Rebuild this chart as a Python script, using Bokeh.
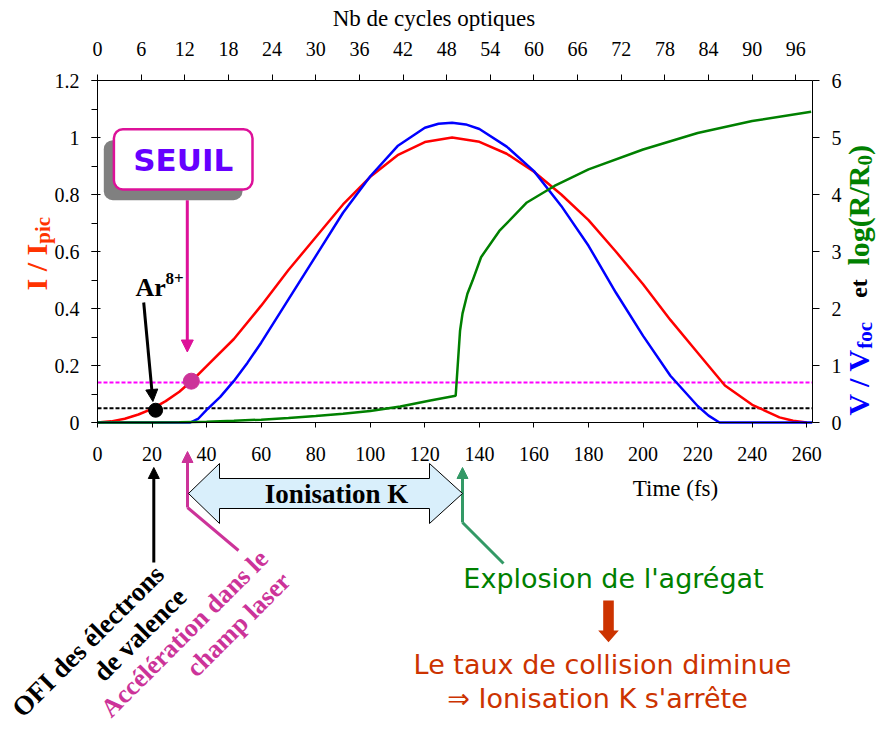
import math
from bokeh.plotting import figure
from bokeh.models import (Range1d, LinearAxis, SingleIntervalTicker, CustomJSTickFormatter,
                          Label, Arrow, NormalHead, PolyAnnotation, BoxAnnotation)
from bokeh.embed import file_html
from bokeh.resources import INLINE

# ---------------- data ----------------
pulse_time_fs = [0, 5, 10, 15, 20, 25, 30, 35, 40, 50, 60, 70, 80, 90, 100, 110, 120, 130,
                 140, 150, 160, 170, 180, 190, 200, 210, 220, 230, 240, 250, 255, 260]
intensity_norm = [0.0, 0.004, 0.013, 0.028, 0.048, 0.075, 0.108, 0.15, 0.198, 0.293, 0.41, 0.535,
                  0.65, 0.765, 0.862, 0.938, 0.984, 1.0, 0.985, 0.943, 0.88, 0.8, 0.71, 0.6,
                  0.485, 0.36, 0.245, 0.13, 0.062, 0.018, 0.006, 0.0]

velocity_time_fs = [0, 34, 37, 40, 45, 50, 55, 60, 70, 80, 90, 100, 110, 120, 125, 130, 135, 140,
                    150, 160, 170, 180, 190, 200, 210, 220, 224, 228, 262]
velocity_norm = [0, 0, 0.07, 0.22, 0.45, 0.73, 1.05, 1.40, 2.16, 2.92, 3.68, 4.32, 4.85, 5.17,
                 5.24, 5.26, 5.23, 5.15, 4.84, 4.41, 3.80, 3.10, 2.28, 1.52, 0.82, 0.29, 0.12,
                 0.0, 0.0]

radius_time_fs = [0, 20, 30, 40, 50, 60, 70, 80, 90, 100, 111, 122, 131.3, 132.9, 133.8, 135.6,
                  137.5, 140.6, 147.3, 157.4, 167.5, 180, 200, 220, 240, 261.6]
log_radius = [0, 0.0, 0.005, 0.015, 0.03, 0.05, 0.08, 0.115, 0.155, 0.2, 0.28, 0.385, 0.47,
              1.61, 1.91, 2.26, 2.49, 2.9, 3.36, 3.86, 4.15, 4.44, 4.79, 5.08, 5.29, 5.45]

ofi_threshold = 0.05        # Ar8+ level
seuil_threshold = 0.14      # SEUIL level
ofi_point_time = [21.3]
ofi_point_level = [0.043]
seuil_point_time = [34.4]
seuil_point_level = [0.145]

fs_per_cycle = 8.0 / 3.0
time_max_fs = 262.1
intensity_max = 1.2
right_max = 6
right_per_left = right_max / intensity_max
time_tick_step = 20
cycle_tick_step = 6
intensity_tick_step = 0.2
right_tick_step = 1

# ---------------- geometry: the frame covers the whole canvas ----------------
W, H = 880, 728
FL, FT, FR, FB = 97, 80, 812, 422   # plotting area (axes box) in canvas pixels
EPS = 1e-6


def dx(px):
    return (px - FL) * time_max_fs / (FR - FL)


def dy(py):
    return (FB - py) * intensity_max / (FB - FT)


p = figure(width=W, height=H,
           x_range=Range1d(dx(0), dx(W)), y_range=Range1d(dy(H), dy(0)),
           output_backend="svg", toolbar_location=None,
           x_axis_location=None, y_axis_location=None, min_border=0)
p.title.visible = False
p.outline_line_color = None
p.background_fill_color = "white"
p.border_fill_color = "white"
p.xgrid.visible = False
p.ygrid.visible = False
p.extra_x_ranges = {"cyc": Range1d(dx(0) / fs_per_cycle, dx(W) / fs_per_cycle)}
p.extra_y_ranges = {"right": Range1d(dy(H) * right_per_left, dy(0) * right_per_left)}

SERIF = "Liberation Serif"
COMIC = "DejaVu Sans"


def style_axis(ax, tick_out, standoff):
    ax.major_label_text_font = SERIF
    ax.major_label_text_font_size = "20px"
    ax.major_label_text_color = "black"
    ax.axis_line_color = "black"
    ax.axis_line_width = 1
    ax.major_tick_line_color = "black"
    ax.major_tick_out = tick_out
    ax.major_tick_in = 0
    ax.minor_tick_line_color = None
    ax.major_label_standoff = standoff


xb = LinearAxis(ticker=SingleIntervalTicker(interval=time_tick_step, num_minor_ticks=0),
                fixed_location=0, bounds=(0, time_max_fs))
style_axis(xb, 5, 19)
p.add_layout(xb, "below")

xt = LinearAxis(x_range_name="cyc",
                ticker=SingleIntervalTicker(interval=cycle_tick_step, num_minor_ticks=0),
                fixed_location=intensity_max, bounds=(0, time_max_fs / fs_per_cycle))
style_axis(xt, 6, 19)
p.add_layout(xt, "above")

yl = LinearAxis(ticker=SingleIntervalTicker(interval=intensity_tick_step, num_minor_ticks=2),
                formatter=CustomJSTickFormatter(code="return String(parseFloat(tick.toFixed(3)));"),
                fixed_location=0, bounds=(0, intensity_max + EPS))
style_axis(yl, 6, 12)
yl.major_tick_in = 3
yl.minor_tick_line_color = "black"
yl.minor_tick_out = 6
yl.minor_tick_in = 0
p.add_layout(yl, "left")

yr = LinearAxis(y_range_name="right",
                ticker=SingleIntervalTicker(interval=right_tick_step, num_minor_ticks=0),
                fixed_location=time_max_fs, bounds=(0, right_max + EPS))
style_axis(yr, 7, 12)
p.add_layout(yr, "right")

# threshold lines (dashed, across the time axis)
p.segment(x0=[0], y0=[seuil_threshold], x1=[time_max_fs], y1=[seuil_threshold],
          line_color="#FF00FF", line_width=2, line_dash="4 2")
p.segment(x0=[0], y0=[ofi_threshold], x1=[time_max_fs], y1=[ofi_threshold],
          line_color="black", line_width=2, line_dash="4 2")

# curves
p.line(pulse_time_fs, intensity_norm, line_color="#FF0000", line_width=2.5)
p.line(velocity_time_fs, velocity_norm, y_range_name="right", line_color="#0000FF", line_width=2.5)
p.line(radius_time_fs, log_radius, y_range_name="right", line_color="#008000", line_width=2.5)

# points
p.scatter(ofi_point_time, ofi_point_level, size=14, color="black")
p.scatter(seuil_point_time, seuil_point_level, size=16, color="#CC3399")


def lab(px, py, text, size, color="black", font=SERIF, style="normal",
        align="center", baseline="middle", angle=0.0):
    p.add_layout(Label(x=dx(px), y=dy(py), text=text, text_font=font,
                       text_font_size=f"{size}px", text_color=color,
                       text_font_style=style, text_align=align,
                       text_baseline=baseline, angle=angle, angle_units="rad"))


def arrow(a, b, color, head=True, width=3, hsize=11):
    end = NormalHead(size=hsize, fill_color=color, line_color=color, line_width=1) if head else None
    p.add_layout(Arrow(x_start=dx(a[0]), y_start=dy(a[1]), x_end=dx(b[0]), y_end=dy(b[1]),
                       line_color=color, line_width=width, end=end))


def poly(pts, fill, line=None, lw=1):
    p.add_layout(PolyAnnotation(xs=[dx(x) for x, _ in pts], ys=[dy(y) for _, y in pts],
                                fill_color=fill, fill_alpha=1.0,
                                line_color=line, line_alpha=1.0, line_width=lw))


# SEUIL box with shadow
p.add_layout(BoxAnnotation(left=dx(103.3), right=dx(242), top=dy(139.7), bottom=dy(199.7),
                           fill_color="#808080", fill_alpha=1.0, line_color=None,
                           border_radius=9))
p.add_layout(BoxAnnotation(left=dx(113.4), right=dx(252), top=dy(128.7), bottom=dy(189),
                           fill_color="white", fill_alpha=1.0, line_color="#DD1199",
                           line_alpha=1.0, line_width=2.5, border_radius=9))
lab(182.7, 159, "SEUIL", 31, color="#6600FF", font=COMIC, style="bold")
arrow((186.8, 199.7), (186.8, 351.5), "#DD1199", hsize=12)

# Ar8+ annotation
lab(135, 287, "Ar", 26, style="bold", align="left", baseline="alphabetic")
lab(165, 278, "8+", 17, style="bold", align="left", baseline="alphabetic")
arrow((143.2, 302), (152.4, 401), "black", hsize=12)

# axis titles
lab(433.5, 18, "Nb de cycles optiques", 23)
lab(675, 488, "Time (fs)", 23)

# left axis title  I / I_pic
HALF = math.pi / 2
lab(36, 290, "I / I", 30, color="#FF3300", style="bold", align="left",
    baseline="alphabetic", angle=HALF)
lab(42, 290 - 46.7, "pic", 21, color="#FF3300", style="bold", align="left",
    baseline="alphabetic", angle=HALF)

# right axis title  V / V_foc  et  log(R/R_0)
RB = 858
lab(RB, 415, "V / V", 30, color="#0000FF", style="bold", align="left",
    baseline="alphabetic", angle=HALF)
lab(RB + 6, 415 - 66.7, "foc", 21, color="#0000FF", style="bold", align="left",
    baseline="alphabetic", angle=HALF)
lab(RB, 288, "et", 24, color="black", style="bold", align="center",
    baseline="alphabetic", angle=HALF)
lab(RB, 265, "log(R/R", 30, color="#008000", style="bold", align="left",
    baseline="alphabetic", angle=HALF)
lab(RB + 6, 165, "0", 21, color="#008000", style="bold", align="left",
    baseline="alphabetic", angle=HALF)
lab(RB, 154.5, ")", 30, color="#008000", style="bold", align="left",
    baseline="alphabetic", angle=HALF)

# bottom annotations
arrow((153.3, 562), (153.3, 467), "black")
arrow((238, 550), (187, 507), "#CC3399", head=False)
arrow((187, 507), (187, 451), "#CC3399")
arrow((503, 563), (462, 522), "#339966", head=False)
arrow((462, 522), (462, 467), "#339966")

poly([(188, 493), (219, 463), (219, 478), (429, 478), (429, 463), (462, 493),
      (429, 523), (429, 508), (219, 508), (219, 523)], "#D9EFFB", line="black", lw=1)
lab(336, 493, "Ionisation K", 27, style="bold")

Q = math.pi / 4
lab(87.5, 640.5, "OFI des électrons", 27, style="bold", angle=Q)
lab(139.2, 634, "de valence", 27, style="bold", angle=Q)
lab(184, 633, "Accélération dans le", 26, color="#CC3399", style="bold", angle=Q)
lab(238, 624, "champ laser", 26, color="#CC3399", style="bold", angle=Q)

lab(613, 578, "Explosion de l'agrégat", 27, color="#008000", font=COMIC)
poly([(602.7, 600), (613.3, 600), (613.3, 630), (618.3, 630), (608, 641.7),
      (597.7, 630), (602.7, 630)], "#CC3300")
lab(602, 664, "Le taux de collision diminue", 27, color="#CC3300", font=COMIC)
lab(597, 698, "\u21D2 Ionisation K s'arrête", 27, color="#CC3300", font=COMIC)

open("out.html", "w").write(file_html(p, INLINE))
